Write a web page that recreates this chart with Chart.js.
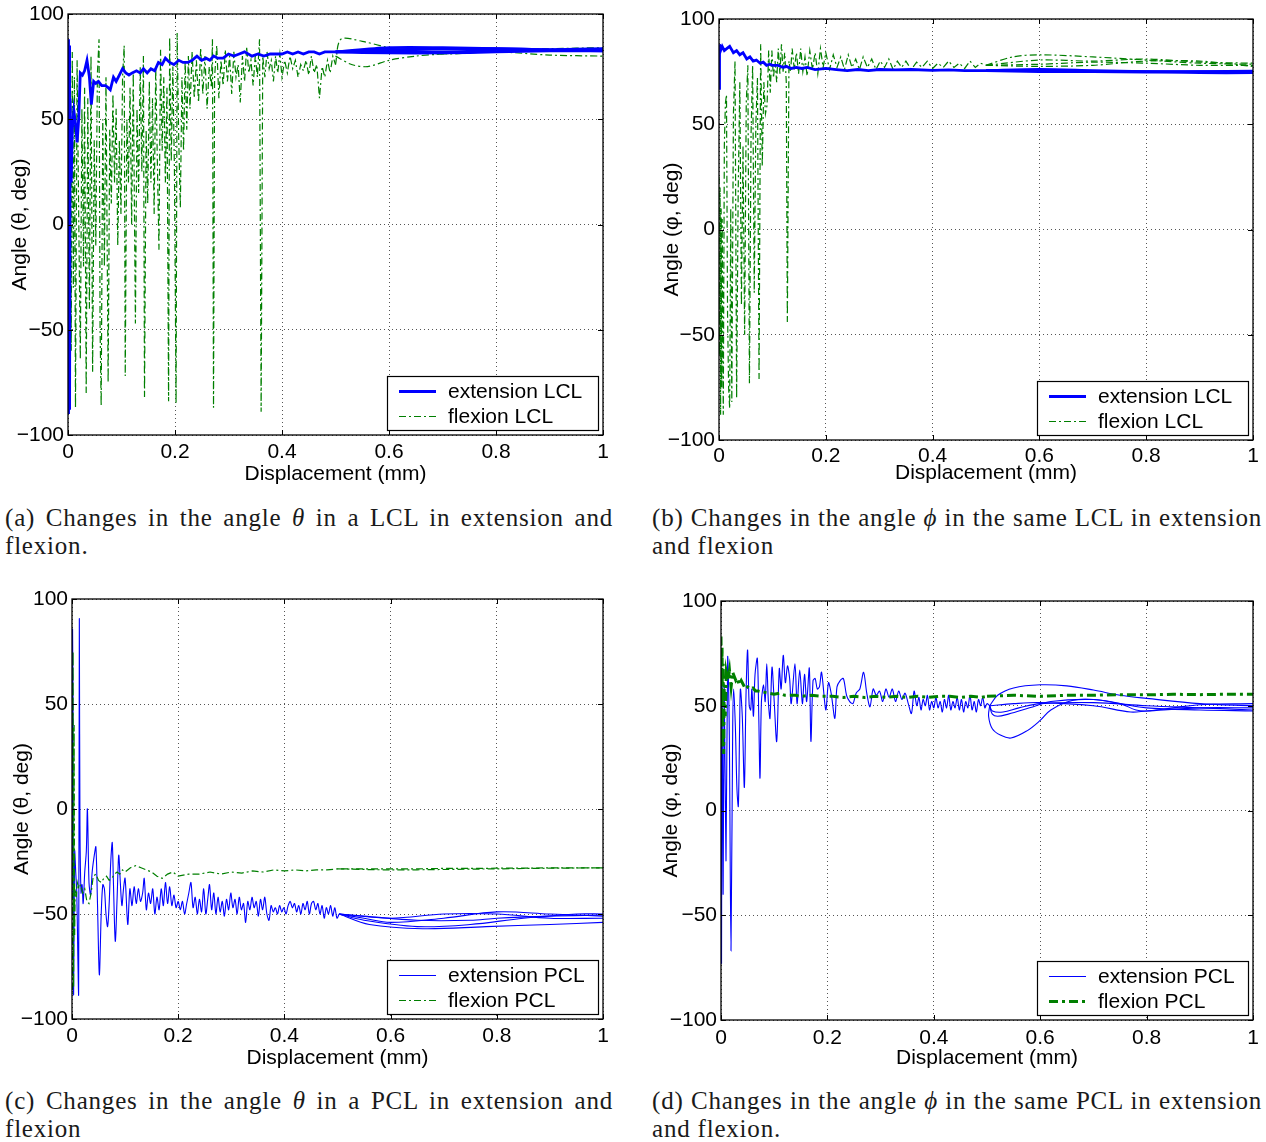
<!DOCTYPE html>
<html>
<head>
<meta charset="utf-8">
<script src="https://cdn.jsdelivr.net/npm/chart.js@4.4.1/dist/chart.umd.min.js"></script>
<style>
  html, body { margin: 0; padding: 0; background: #fff; }
  body { position: relative; width: 1266px; height: 1142px; overflow: hidden; }
  canvas { position: absolute; }
  .cap { position: absolute; font-family: 'Liberation Serif', 'DejaVu Serif', serif; font-size: 25px; letter-spacing: 0.8px; line-height: 28px; color: #1a1a1a; }
  .cap .j { text-align: justify; text-align-last: justify; white-space: nowrap; }
</style>
</head>
<body>
<canvas id="chartA" width="633" height="490" style="left:0;top:0"></canvas>
<canvas id="chartB" width="633" height="490" style="left:633px;top:0"></canvas>
<canvas id="chartC" width="633" height="490" style="left:0;top:585px"></canvas>
<canvas id="chartD" width="633" height="490" style="left:633px;top:585px"></canvas>

<div class="cap" style="left:5px;top:504px;width:608px">
  <div class="j">(a) Changes in the angle <i>θ</i> in a LCL in extension and</div>
  <div>flexion.</div>
</div>
<div class="cap" style="left:652px;top:504px;width:610px">
  <div class="j">(b) Changes in the angle <i>ϕ</i> in the same LCL in extension</div>
  <div>and flexion</div>
</div>
<div class="cap" style="left:5px;top:1087px;width:608px">
  <div class="j">(c) Changes in the angle <i>θ</i> in a PCL in extension and</div>
  <div>flexion</div>
</div>
<div class="cap" style="left:652px;top:1087px;width:610px">
  <div class="j">(d) Changes in the angle <i>ϕ</i> in the same PCL in extension</div>
  <div>and flexion.</div>
</div>

<script>
var BLUE = '#0000ff';
var GREEN = '#007f00';
var FONT = { family: '"Liberation Sans", Arial, sans-serif', size: 21 };

var xTickVals = [0, 0.2, 0.4, 0.6, 0.8, 1];
var xTickLabels = ['0', '0.2', '0.4', '0.6', '0.8', '1'];
var yTickVals = [-100, -50, 0, 50, 100];
var yTickLabels = ['\u2212100', '\u221250', '0', '50', '100'];

// shared x for the smooth tails after 0.5 mm
var tailX = [0.5, 0.6, 0.7, 0.8, 0.9, 1.0];

// ---- (a) theta, LCL ----
var aExtX = [0, 0.001, 0.002, 0.003, 0.004, 0.006, 0.008, 0.011, 0.014, 0.017,
  0.020, 0.023, 0.027, 0.031, 0.0355, 0.040, 0.0436, 0.048, 0.052, 0.057,
  0.063, 0.070, 0.075, 0.079, 0.085, 0.090, 0.096, 0.102, 0.108, 0.114,
  0.120, 0.128, 0.135, 0.141, 0.148, 0.155, 0.162, 0.169, 0.176, 0.182,
  0.190, 0.198, 0.207, 0.215, 0.224, 0.232, 0.241, 0.250, 0.258, 0.265,
  0.272, 0.280, 0.290, 0.300, 0.310, 0.320, 0.330, 0.344, 0.355, 0.366,
  0.378, 0.390, 0.400, 0.410, 0.420, 0.430, 0.440, 0.450, 0.460, 0.470,
  0.480, 0.490, 0.500];
var aExtY = [88, -90, 85, -88, 60, 20, 45, 54, 48, 39,
  50, 72, 71, 73, 78, 70, 57, 68, 67, 68,
  66, 66, 65, 64, 70, 68, 71, 74, 72, 71,
  72, 73, 72, 74, 72, 74, 73, 77, 76, 79,
  77, 76, 78, 77, 77, 78, 80, 78, 79, 78,
  80, 79, 79, 81, 80, 81, 82, 80, 81, 80,
  81, 81, 81, 82, 81, 82, 81, 82, 82, 81,
  82, 82, 82];
var aExtB1Y = [82, 83, 83.5, 83.5, 83, 83];
var aExtB2Y = [82, 82.5, 82, 82.5, 83, 83.5];
var aExtB3Y = [82, 81.5, 81.5, 82, 82.5, 82.5];
var aExtB4Y = [82, 84, 84, 83.5, 83, 82.5];

var aFlexX = [0.000, 0.002, 0.004, 0.006, 0.008, 0.010, 0.012, 0.014, 0.017, 0.020,
  0.023, 0.026, 0.029, 0.031, 0.034, 0.037, 0.040, 0.043, 0.046, 0.049,
  0.052, 0.055, 0.058, 0.060, 0.062, 0.065, 0.068, 0.071, 0.075, 0.078,
  0.081, 0.084, 0.087, 0.090, 0.093, 0.096, 0.099, 0.102, 0.105, 0.107,
  0.110, 0.113, 0.116, 0.119, 0.122, 0.126, 0.129, 0.132, 0.135, 0.138,
  0.141, 0.143, 0.146, 0.149, 0.152, 0.155, 0.158, 0.161, 0.164, 0.167,
  0.170, 0.173, 0.176, 0.179, 0.182, 0.185, 0.188, 0.190, 0.193, 0.196,
  0.199, 0.202, 0.204, 0.207, 0.210, 0.213, 0.216, 0.219, 0.222, 0.225,
  0.228, 0.232, 0.236, 0.240, 0.244, 0.248, 0.252, 0.256, 0.260, 0.264,
  0.268, 0.270, 0.272, 0.274, 0.278, 0.282, 0.286, 0.290, 0.294, 0.298,
  0.302, 0.306, 0.310, 0.314, 0.318, 0.322, 0.326, 0.330, 0.334, 0.338,
  0.342, 0.346, 0.350, 0.354, 0.358, 0.361, 0.364, 0.368, 0.372, 0.376,
  0.380, 0.384, 0.388, 0.392, 0.396, 0.400, 0.405, 0.410, 0.415, 0.420,
  0.425, 0.430, 0.435, 0.440, 0.445, 0.450, 0.455, 0.460, 0.465, 0.470,
  0.475, 0.480, 0.485, 0.490, 0.495, 0.500];
var aFlexY = [20, -85, 75, -60, 82, -30, 70, -87, 78, 5,
  -64, 55, -20, 65, -80, 60, -40, 80, -70, 40,
  -10, 72, 88, -50, -86, 50, -20, 70, -75, 45,
  10, 62, 20, 55, -10, 40, 5, 70, 85, -72,
  50, 20, 65, 0, 72, -47, 55, 15, 75, 25,
  80, -82, 45, 10, 68, 20, 60, 5, 75, 30,
  -12, 83, 35, 70, 20, 65, -84, 89, 30, 75,
  25, -85, 91, 40, 8, 70, 35, 78, 45, 80,
  55, 82, 60, 78, 58, 84, 62, 80, 55, 75,
  65, 88, -87, 70, 85, 60, 78, 66, 83, 68,
  80, 62, 82, 70, 76, 58, 80, 68, 84, 72,
  78, 66, 80, 70, 88, -89, 80, 70, 82, 74,
  78, 68, 80, 72, 81, 70, 78, 72, 80, 74,
  78, 70, 76, 73, 78, 71, 80, 72, 76, 60,
  75, 70, 78, 72, 80, 76];
var aFlexB1X = [0.5, 0.51, 0.55, 0.6, 0.65, 0.7, 0.8, 0.9, 1.0];
var aFlexB1Y = [76, 88, 87, 84, 82, 81.5, 82, 83, 82.5];
var aFlexB2X = [0.5, 0.53, 0.56, 0.6, 0.65, 0.7, 0.8, 0.9, 1.0];
var aFlexB2Y = [80, 76, 75, 78, 80, 81, 82.5, 83.5, 84];
var aFlexB3Y = [82, 83, 81, 82, 80.5, 80];

// ---- (b) phi, LCL ----
var bExtX = [0, 0.001, 0.003, 0.006, 0.01, 0.015, 0.02, 0.027, 0.033, 0.039,
  0.045, 0.052, 0.058, 0.064, 0.07, 0.077, 0.083, 0.089, 0.095, 0.1,
  0.11, 0.12, 0.126, 0.135, 0.145, 0.155, 0.165, 0.18, 0.2, 0.22,
  0.24, 0.26, 0.28, 0.3, 0.33, 0.36, 0.4, 0.43, 0.46, 0.5];
var bExtY = [67, 88, 85, 87, 85, 86, 87, 84, 85, 83,
  84, 81, 82, 80, 80.5, 79, 79.5, 78, 78.5, 78,
  78, 77, 77.5, 76.5, 77, 76.5, 77, 76, 76.5, 76,
  75.5, 76, 75.5, 76, 75.8, 76, 75.6, 75.8, 75.5, 75.5];
var bExtB1Y = [75.5, 75.5, 75, 75, 75, 74.8];
var bExtB2Y = [75.5, 76, 75.5, 75, 74.5, 74.5];
var bExtB3Y = [75.5, 75, 75, 74.8, 75, 75.2];

var bFlexX = [0.000, 0.001, 0.002, 0.003, 0.004, 0.005, 0.006, 0.008, 0.010, 0.012,
  0.014, 0.016, 0.018, 0.020, 0.022, 0.024, 0.027, 0.030, 0.033, 0.036,
  0.039, 0.042, 0.045, 0.048, 0.051, 0.054, 0.057, 0.060, 0.063, 0.066,
  0.069, 0.072, 0.075, 0.078, 0.081, 0.084, 0.087, 0.090, 0.093, 0.096,
  0.099, 0.102, 0.105, 0.108, 0.111, 0.114, 0.117, 0.120, 0.123, 0.126,
  0.128, 0.131, 0.134, 0.137, 0.141, 0.145, 0.149, 0.153, 0.157, 0.161,
  0.165, 0.170, 0.175, 0.180, 0.185, 0.190, 0.195, 0.200, 0.207, 0.214,
  0.221, 0.228, 0.235, 0.242, 0.249, 0.256, 0.263, 0.270, 0.278, 0.286,
  0.294, 0.302, 0.310, 0.318, 0.326, 0.334, 0.342, 0.350, 0.360, 0.370,
  0.380, 0.390, 0.400, 0.410, 0.420, 0.430, 0.440, 0.450, 0.460, 0.470,
  0.480, 0.490, 0.500];
var bFlexY = [25, -60, 20, -88, 10, -75, 5, -88, 40, 60,
  64, -40, -75, -85, 10, -82, 55, 80, -80, 20,
  70, -36, 40, -50, 60, 78, -73, 45, 78, -30,
  50, 72, -71, 88, 30, 70, 55, 59, 85, 65,
  85, 72, 80, 70, 86, 74, 88, 75, 84, 70,
  -44, 80, 75, 86, 76, 84, 74, 86, 75, 82,
  73, 85, 76, 84, 74, 86, 77, 84, 76, 83,
  77, 82, 76, 83, 77, 81, 76, 82, 77, 81,
  76, 80, 77, 81, 76, 80, 77, 80, 76, 79.5,
  77, 80, 76.5, 79, 77, 80, 77, 79, 76.5, 80,
  77, 79, 78];
var bFlexB1X = [0.5, 0.55, 0.6, 0.7, 0.8, 0.9, 1.0];
var bFlexB1Y = [78, 82, 83, 82, 80.5, 79, 78.5];
var bFlexB2Y = [78, 80.5, 80, 81, 79.5, 79];
var bFlexB3Y = [78, 78.5, 79.5, 79, 78, 78];
var bFlexB4Y = [78, 77.5, 78, 80, 80, 77.5];

// ---- (c) theta, PCL ----
var cExtX = [0.000, 0.001, 0.002, 0.003, 0.005, 0.007, 0.009, 0.011, 0.0125, 0.0138,
  0.015, 0.017, 0.019, 0.021, 0.024, 0.027, 0.029, 0.032, 0.035, 0.038,
  0.042, 0.045, 0.048, 0.0515, 0.055, 0.058, 0.061, 0.064, 0.067, 0.070,
  0.073, 0.0758, 0.078, 0.0815, 0.085, 0.088, 0.091, 0.094, 0.097, 0.100,
  0.105, 0.109, 0.113, 0.117, 0.121, 0.125, 0.129, 0.133, 0.136, 0.140,
  0.144, 0.148, 0.152, 0.156, 0.160, 0.164, 0.168, 0.172, 0.176, 0.180,
  0.184, 0.188, 0.192, 0.196, 0.200, 0.204, 0.208, 0.212, 0.216, 0.220,
  0.224, 0.228, 0.232, 0.236, 0.240, 0.244, 0.248, 0.252, 0.256, 0.259,
  0.263, 0.267, 0.271, 0.275, 0.279, 0.283, 0.287, 0.291, 0.295, 0.299,
  0.303, 0.307, 0.311, 0.315, 0.319, 0.323, 0.327, 0.331, 0.335, 0.339,
  0.343, 0.347, 0.351, 0.355, 0.359, 0.363, 0.367, 0.371, 0.375, 0.379,
  0.383, 0.387, 0.391, 0.395, 0.399, 0.403, 0.407, 0.411, 0.415, 0.419,
  0.423, 0.427, 0.431, 0.435, 0.439, 0.443, 0.447, 0.451, 0.455, 0.459,
  0.463, 0.467, 0.471, 0.475, 0.479, 0.483, 0.487, 0.491, 0.495, 0.499,
  0.503];
var cExtY = [-40, 85, 45, -88, -20, -30, -40, -70, -88, 90,
  -8, -40, -36, -45, -30, -20, 0, -35, -41, -30,
  -22, -18, -45, -79, -50, -36, -38, -50, -56, -45,
  -25, -16, -35, -63, -42, -22, -35, -46, -38, -33,
  -55, -38, -46, -37, -45, -38, -44, -40, -33, -48,
  -40, -45, -38, -50, -42, -48, -38, -46, -35, -45,
  -37, -46, -41, -47, -44, -48, -44, -50, -45, -40,
  -35, -47, -42, -50, -43, -49, -38, -50, -42, -36,
  -48, -40, -50, -42, -49, -44, -51, -43, -48, -40,
  -47, -43, -50, -42, -48, -45, -54, -44, -48, -42,
  -47, -44, -51, -43, -48, -42, -50, -53, -46, -49,
  -47, -50, -46, -49, -47, -50, -46, -44, -47, -45,
  -49, -46, -50, -45, -48, -44, -50, -45, -44, -48,
  -45, -50, -46, -52, -47, -50, -46, -51, -47, -52,
  -50];
var cExtB1X = [0.503, 0.55, 0.6, 0.7, 0.8, 0.9, 1.0];
var cExtB1Y = [-50, -52, -54, -52, -49, -50, -51];
var cExtB2X = [0.503, 0.55, 0.65, 0.75, 0.85, 0.95, 1.0];
var cExtB2Y = [-50, -53, -56, -55, -52, -50, -50];
var cExtB3X = [0.503, 0.56, 0.66, 0.78, 0.9, 1.0];
var cExtB3Y = [-50, -55, -57, -56, -55, -54];
var cExtB4X = [0.503, 0.55, 0.65, 0.75, 0.8, 0.9, 1.0];
var cExtB4Y = [-50, -51, -53, -53, -52, -51, -50.5];
var cExtB5X = [0.503, 0.6, 0.7, 0.8, 0.9, 1.0];
var cExtB5Y = [-50, -52, -50, -50, -52, -52];

var cFlexX = [0.000, 0.001, 0.002, 0.003, 0.004, 0.005, 0.006, 0.008, 0.010, 0.013,
  0.016, 0.020, 0.024, 0.028, 0.032, 0.036, 0.040, 0.045, 0.050, 0.055,
  0.060, 0.065, 0.070, 0.075, 0.080, 0.085, 0.090, 0.095, 0.100, 0.110,
  0.120, 0.130, 0.140, 0.150, 0.160, 0.170, 0.180, 0.190, 0.200, 0.220,
  0.240, 0.260, 0.280, 0.300, 0.320, 0.340, 0.360, 0.380, 0.400, 0.420,
  0.440, 0.460, 0.480, 0.500, 0.550, 0.600, 0.650, 0.700, 0.750, 0.800,
  0.850, 0.900, 0.950, 1.000];
var cFlexY = [60, -88, 75, -85, 40, -60, -38, -42, -35, -38,
  -36, -40, -38, -44, -45, -40, -32, -31, -34, -35,
  -33, -32, -34, -33, -31, -30, -31, -29, -30, -28,
  -27, -28, -29, -30, -32, -33, -31, -30, -32, -31,
  -31, -30, -31, -30, -30.5, -29.5, -30, -29, -29.5, -29,
  -29.5, -29, -29, -28.5, -28.5, -28.5, -28.5, -28.3, -28.3, -28.2,
  -28.2, -28, -28, -28];
var cFlexB1Y = [-28.5, -29, -28.8, -28.5, -28.2, -28];

// ---- (d) phi, PCL ----
var dExtX = [0.000, 0.001, 0.002, 0.004, 0.006, 0.0094, 0.0125, 0.0155, 0.0188, 0.022,
  0.0238, 0.027, 0.030, 0.0326, 0.035, 0.0365, 0.040, 0.0439, 0.047, 0.050,
  0.053, 0.0558, 0.058, 0.061, 0.064, 0.0683, 0.071, 0.0733, 0.076, 0.080,
  0.083, 0.086, 0.089, 0.0921, 0.0959, 0.100, 0.1047, 0.1096, 0.113, 0.117,
  0.121, 0.125, 0.129, 0.132, 0.139, 0.143, 0.148, 0.153, 0.157, 0.161,
  0.166, 0.169, 0.173, 0.177, 0.181, 0.185, 0.189, 0.197, 0.202, 0.207,
  0.214, 0.218, 0.224, 0.230, 0.236, 0.242, 0.248, 0.254, 0.261, 0.268,
  0.274, 0.280, 0.286, 0.292, 0.298, 0.304, 0.310, 0.316, 0.322, 0.328,
  0.334, 0.340, 0.346, 0.352, 0.358, 0.363, 0.368, 0.372, 0.376, 0.380,
  0.384, 0.388, 0.392, 0.396, 0.400, 0.404, 0.408, 0.412, 0.416, 0.420,
  0.424, 0.428, 0.432, 0.436, 0.440, 0.444, 0.448, 0.452, 0.456, 0.460,
  0.464, 0.468, 0.472, 0.476, 0.480, 0.484, 0.488, 0.492, 0.496, 0.500,
  0.505];
var dExtY = [70, -73, 65, -40, 60, -24, 73, 40, -67, 40,
  58, 40, 10, 2, 40, 58, 45, 11, 55, 76.6,
  50, 48, 58, 45, 65, 72.6, 45, 15.4, 52, 60,
  52, 70, 52, 44, 68.4, 52, 33, 67.7, 58, 74.1,
  61, 69, 63, 51, 70, 51, 67, 51, 65, 52,
  68, 33, 62, 63, 58, 59, 66, 48, 61, 56,
  44, 59, 62, 63, 55, 52, 51, 56, 58, 66,
  56, 49.5, 58, 55, 57, 52, 58, 54, 58, 52,
  57, 53, 56, 51, 46.3, 57, 50, 54, 48, 53,
  50, 55, 48, 52, 49, 54, 49, 52, 47, 53,
  49, 55, 48, 52, 49, 54, 48, 53, 47, 52,
  49, 55, 48, 52, 47, 53, 50, 54, 49, 51,
  50];
var dExtB1X = [0.505, 0.52, 0.55, 0.6, 0.65, 0.7, 0.75, 0.8, 0.9, 1.0];
var dExtB1Y = [50, 55, 58.5, 60, 59.5, 57.5, 55, 53.5, 51, 50];
var dExtB2X = [0.505, 0.503, 0.51, 0.525, 0.545, 0.575, 0.6, 0.62, 0.66, 0.7, 0.75, 0.8, 0.9, 1.0];
var dExtB2Y = [50, 45, 39, 36, 34.6, 38, 43, 48, 52.5, 53, 51, 49, 48, 47.5];
var dExtB3X = [0.505, 0.51, 0.52, 0.54, 0.58, 0.62, 0.7, 0.75, 0.78, 0.8, 0.85, 0.9, 1.0];
var dExtB3Y = [50, 46, 45, 46, 49, 52, 53, 51, 48, 47.5, 49, 50.5, 51];
var dExtB4X = [0.505, 0.51, 0.53, 0.56, 0.6, 0.7, 0.8, 0.9, 1.0];
var dExtB4Y = [50, 47.5, 47, 49, 51, 51.5, 50, 49, 48];
var dExtB5X = [0.505, 0.55, 0.6, 0.7, 0.77, 0.8, 0.9, 1.0];
var dExtB5Y = [50, 51, 51.5, 50, 47, 47.5, 49, 49];

var dFlexX = [0.000, 0.001, 0.002, 0.003, 0.004, 0.005, 0.006, 0.008, 0.010, 0.013,
  0.016, 0.019, 0.022, 0.025, 0.028, 0.031, 0.034, 0.038, 0.042, 0.046,
  0.050, 0.055, 0.060, 0.065, 0.070, 0.080, 0.090, 0.100, 0.110, 0.120,
  0.130, 0.140, 0.150, 0.170, 0.190, 0.210, 0.230, 0.250, 0.270, 0.290,
  0.310, 0.330, 0.350, 0.370, 0.390, 0.410, 0.430, 0.450, 0.470, 0.490,
  0.500];
var dFlexY = [83, 40, 78, 30, 70, 27, 60, 45, 66, 62,
  67, 59, 66, 64, 62, 63, 60, 62, 60, 58,
  59, 58, 58.5, 57, 57, 56.5, 56, 55.5, 56, 55,
  55, 55, 54.5, 55, 54.5, 54.5, 54, 54.5, 54, 54.5,
  54, 54.5, 54, 54.5, 54, 54.5, 54.5, 54, 54.5, 54,
  54.5];
var dFlexBX = [0.5, 0.55, 0.6, 0.65, 0.7, 0.75, 0.8, 0.85, 0.9, 0.95, 1.0];
var dFlexBY = [54.5, 55, 54.5, 55, 55, 55.3, 55.2, 55.5, 55.3, 55.5, 55.5];

function pts(xs, ys) {
  return xs.map(function(x, i) { return { x: x, y: ys[i] }; });
}

function series(label, xs, ys, st) {
  return {
    label: label,
    data: pts(xs, ys),
    borderColor: st.color,
    borderWidth: st.width,
    borderDash: st.dash || [],
    pointRadius: 0,
    fill: false,
    tension: st.tension || 0,
    order: st.order
  };
}

// box, inward ticks and the legend, drawn like the matlab figure
var boxPlugin = {
  id: 'boxPlugin',
  afterDatasetsDraw: function(chart) {
    var ctx = chart.ctx, a = chart.chartArea, xs = chart.scales.x, ys = chart.scales.y;
    ctx.save();
    ctx.setLineDash([]);
    ctx.strokeStyle = '#000';
    ctx.lineWidth = 1;
    ctx.beginPath();
    xTickVals.forEach(function(v) {
      var px = Math.round(xs.getPixelForValue(v)) + 0.5;
      ctx.moveTo(px, a.bottom); ctx.lineTo(px, a.bottom - 5);
      ctx.moveTo(px, a.top); ctx.lineTo(px, a.top + 5);
    });
    yTickVals.forEach(function(v) {
      var py = Math.round(ys.getPixelForValue(v)) + 0.5;
      ctx.moveTo(a.left, py); ctx.lineTo(a.left + 5, py);
      ctx.moveTo(a.right, py); ctx.lineTo(a.right - 5, py);
    });
    ctx.stroke();
    ctx.lineWidth = 1.3;
    ctx.strokeRect(a.left, a.top, a.right - a.left, a.bottom - a.top);

    var items = chart.data.datasets.filter(function(d) { return d.label; });
    var w = 211, h = 54;
    var bx = Math.round(a.right - 5 - w), by = Math.round(a.bottom - 5 - h);
    ctx.fillStyle = '#fff';
    ctx.fillRect(bx, by, w, h);
    ctx.lineWidth = 1.2;
    ctx.strokeRect(bx + 0.5, by + 0.5, w, h);
    items.forEach(function(d, i) {
      var cy = by + 15.5 + i * 25;
      ctx.strokeStyle = d.borderColor;
      ctx.lineWidth = d.borderWidth;
      ctx.setLineDash(d.borderDash);
      ctx.beginPath();
      ctx.moveTo(bx + 12, cy);
      ctx.lineTo(bx + 49, cy);
      ctx.stroke();
      ctx.setLineDash([]);
      ctx.fillStyle = '#000';
      ctx.font = '21px "Liberation Sans", Arial, sans-serif';
      ctx.textAlign = 'left';
      ctx.textBaseline = 'middle';
      ctx.fillText(d.label, bx + 61, cy + 1);
    });
    ctx.restore();
  }
};

function makeChart(id, g, datasets) {
  return new Chart(document.getElementById(id), {
    type: 'line',
    data: { datasets: datasets },
    options: {
      responsive: false,
      animation: false,
      devicePixelRatio: 1,
      layout: { padding: { left: 0, top: g.T - g.ct, right: g.cl + g.cw - g.R, bottom: 0 } },
      plugins: { legend: { display: false }, tooltip: { enabled: false } },
      scales: {
        x: {
          type: 'linear', min: 0, max: 1,
          afterBuildTicks: function(s) { s.ticks = xTickVals.map(function(v) { return { value: v }; }); },
          afterFit: function(s) { s.height = g.ct + g.ch - g.B; s.paddingLeft = 0; s.paddingRight = 0; },
          ticks: { color: '#000', font: FONT, padding: g.xTickPad, maxRotation: 0, autoSkip: false,
            callback: function(v, i) { return xTickLabels[i]; } },
          grid: { color: '#555', lineWidth: 1, drawTicks: false },
          border: { display: false, dash: [1, 3] },
          title: { display: true, text: 'Displacement (mm)', color: '#000', font: FONT,
            padding: { top: 0, bottom: g.xTitlePad } }
        },
        y: {
          type: 'linear', min: -100, max: 100,
          afterBuildTicks: function(s) { s.ticks = yTickVals.map(function(v) { return { value: v }; }); },
          afterFit: function(s) { s.width = g.L - g.cl; s.paddingTop = 0; s.paddingBottom = 0; },
          ticks: { color: '#000', font: FONT, padding: 4, autoSkip: false,
            callback: function(v, i) { return yTickLabels[i]; } },
          grid: { color: '#555', lineWidth: 1, drawTicks: false },
          border: { display: false, dash: [1, 3] },
          title: { display: true, text: g.yTitle, color: '#000', font: FONT,
            padding: { top: g.yTitlePad, bottom: 0 } }
        }
      }
    },
    plugins: [boxPlugin]
  });
}

// (a)
var extA = { color: BLUE, width: 2.8, order: 0 };
var extAT = { color: BLUE, width: 2.8, order: 0, tension: 0.3 };
var flxA = { color: GREEN, width: 1.2, dash: [7, 3, 2, 3], order: 1 };
var flxAT = { color: GREEN, width: 1.2, dash: [7, 3, 2, 3], order: 1, tension: 0.3 };
makeChart('chartA',
  { cl: 0, ct: 0, cw: 633, ch: 490, L: 68, T: 14, R: 603, B: 435,
    yTitle: 'Angle (\u03b8, deg)', yTitlePad: 7.4, xTitlePad: 3.4, xTickPad: 4.4 },
  [
    series('extension LCL', aExtX, aExtY, extA),
    series('', tailX, aExtB1Y, extAT),
    series('', tailX, aExtB2Y, extAT),
    series('', tailX, aExtB3Y, extAT),
    series('', tailX, aExtB4Y, extAT),
    series('flexion LCL', aFlexX, aFlexY, flxA),
    series('', aFlexB1X, aFlexB1Y, flxAT),
    series('', aFlexB2X, aFlexB2Y, flxAT),
    series('', tailX, aFlexB3Y, flxAT)
  ]);

// (b)
makeChart('chartB',
  { cl: 633, ct: 0, cw: 633, ch: 490, L: 719, T: 19, R: 1253, B: 440,
    yTitle: 'Angle (\u03c6, deg)', yTitlePad: 26.4, xTitlePad: 4.4, xTickPad: 3.4 },
  [
    series('extension LCL', bExtX, bExtY, extA),
    series('', tailX, bExtB1Y, extAT),
    series('', tailX, bExtB2Y, extAT),
    series('', tailX, bExtB3Y, extAT),
    series('flexion LCL', bFlexX, bFlexY, flxA),
    series('', bFlexB1X, bFlexB1Y, flxAT),
    series('', tailX, bFlexB2Y, flxAT),
    series('', tailX, bFlexB3Y, flxAT),
    series('', tailX, bFlexB4Y, flxAT)
  ]);

// (c)
var extC = { color: BLUE, width: 1.1, order: 1, tension: 0.3 };
var extCT = { color: BLUE, width: 1.1, order: 1, tension: 0.35 };
var flxC = { color: GREEN, width: 1.2, dash: [7, 3, 2, 3], order: 0 };
var flxCT = { color: GREEN, width: 1.2, dash: [7, 3, 2, 3], order: 0, tension: 0.3 };
makeChart('chartC',
  { cl: 0, ct: 585, cw: 633, ch: 490, L: 72, T: 599, R: 603, B: 1019,
    yTitle: 'Angle (\u03b8, deg)', yTitlePad: 9.4, xTitlePad: 4.4, xTickPad: 4.4 },
  [
    series('extension PCL', cExtX, cExtY, extC),
    series('', cExtB1X, cExtB1Y, extCT),
    series('', cExtB2X, cExtB2Y, extCT),
    series('', cExtB3X, cExtB3Y, extCT),
    series('', cExtB4X, cExtB4Y, extCT),
    series('', cExtB5X, cExtB5Y, extCT),
    series('flexion PCL', cFlexX, cFlexY, flxC),
    series('', tailX, cFlexB1Y, flxCT)
  ]);

// (d)
var flxD = { color: GREEN, width: 3, dash: [9, 4, 3, 4], order: 0 };
makeChart('chartD',
  { cl: 633, ct: 585, cw: 633, ch: 490, L: 721, T: 601, R: 1253, B: 1020,
    yTitle: 'Angle (\u03c6, deg)', yTitlePad: 25.4, xTitlePad: 4.4, xTickPad: 5.4 },
  [
    series('extension PCL', dExtX, dExtY, extC),
    series('', dExtB1X, dExtB1Y, extCT),
    series('', dExtB2X, dExtB2Y, extCT),
    series('', dExtB3X, dExtB3Y, extCT),
    series('', dExtB4X, dExtB4Y, extCT),
    series('', dExtB5X, dExtB5Y, extCT),
    series('flexion PCL', dFlexX, dFlexY, flxD),
    series('', dFlexBX, dFlexBY, flxD)
  ]);
</script>
</body>
</html>
